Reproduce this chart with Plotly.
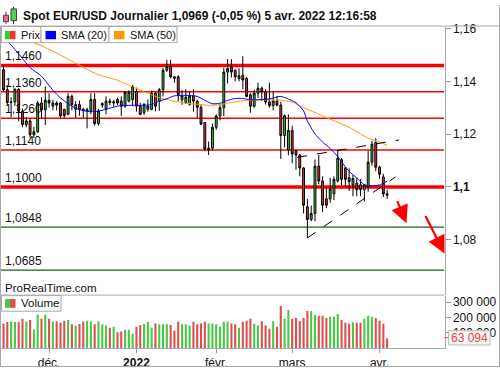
import plotly.graph_objects as go
import pandas as pd

# ---------------- data ----------------
dates = [d.strftime("%Y-%m-%d") for d in pd.bdate_range("2021-11-15", "2022-04-05")]

opens = [1.1444, 1.1368, 1.1320, 1.1322, 1.1370, 1.1287, 1.1236, 1.1250, 1.1198, 1.1209,
         1.1318, 1.1292, 1.1328, 1.1306, 1.1318, 1.1318, 1.1294, 1.1275, 1.1343, 1.1294,
         1.1312, 1.1294, 1.1288, 1.1288, 1.1331, 1.1240, 1.1310, 1.1294, 1.1325, 1.1318,
         1.1331, 1.1325, 1.1306, 1.1325, 1.1331, 1.1362, 1.1306, 1.1282, 1.1294, 1.1294,
         1.1355, 1.1324, 1.1368, 1.1442, 1.1456, 1.1417, 1.1417, 1.1330, 1.1320, 1.1313,
         1.1345, 1.1325, 1.1302, 1.1244, 1.1141, 1.1147, 1.1226, 1.1269, 1.1300, 1.1435,
         1.1454, 1.1441, 1.1410, 1.1423, 1.1411, 1.1349, 1.1306, 1.1355, 1.1374, 1.1360,
         1.1322, 1.1308, 1.1326, 1.1310, 1.1195, 1.1140, 1.1214, 1.1137, 1.1121, 1.1072,
         1.0925, 1.0877, 1.0900, 1.1079, 1.1023, 1.0955, 1.0955, 1.0974, 1.1023, 1.1103,
         1.1072, 1.1035, 1.1008, 1.1014, 1.1008, 1.0990, 1.1001, 1.1094, 1.1168, 1.1075,
         1.1038, 1.0974]
highs = [1.1462, 1.1386, 1.1340, 1.1373, 1.1374, 1.1297, 1.1264, 1.1260, 1.1227, 1.1326,
         1.1340, 1.1380, 1.1355, 1.1330, 1.1325, 1.1322, 1.1296, 1.1355, 1.1350, 1.1325,
         1.1327, 1.1300, 1.1300, 1.1355, 1.1355, 1.1295, 1.1320, 1.1343, 1.1335, 1.1330,
         1.1338, 1.1343, 1.1362, 1.1366, 1.1386, 1.1376, 1.1319, 1.1318, 1.1332, 1.1365,
         1.1360, 1.1375, 1.1450, 1.1481, 1.1481, 1.1420, 1.1423, 1.1366, 1.1370, 1.1363,
         1.1370, 1.1330, 1.1310, 1.1245, 1.1172, 1.1240, 1.1275, 1.1314, 1.1451, 1.1484,
         1.1484, 1.1445, 1.1449, 1.1495, 1.1416, 1.1355, 1.1369, 1.1395, 1.1380, 1.1370,
         1.1395, 1.1360, 1.1345, 1.1323, 1.1274, 1.1275, 1.1232, 1.1140, 1.1125, 1.1075,
         1.0955, 1.0930, 1.1104, 1.1121, 1.1040, 1.0999, 1.1035, 1.1040, 1.1138, 1.1110,
         1.1075, 1.1070, 1.1045, 1.1035, 1.1030, 1.1010, 1.1137, 1.1175, 1.1185, 1.1080,
         1.1050, 1.0990]
lows = [1.1362, 1.1309, 1.1264, 1.1307, 1.1249, 1.1226, 1.1226, 1.1186, 1.1185, 1.1205,
        1.1260, 1.1235, 1.1300, 1.1290, 1.1290, 1.1262, 1.1262, 1.1272, 1.1290, 1.1262,
        1.1270, 1.1262, 1.1222, 1.1275, 1.1232, 1.1232, 1.1300, 1.1275, 1.1310, 1.1305,
        1.1310, 1.1269, 1.1300, 1.1320, 1.1306, 1.1285, 1.1272, 1.1272, 1.1285, 1.1290,
        1.1286, 1.1288, 1.1343, 1.1436, 1.1411, 1.1395, 1.1325, 1.1311, 1.1314, 1.1308,
        1.1285, 1.1262, 1.1234, 1.1135, 1.1121, 1.1138, 1.1217, 1.1252, 1.1268, 1.1392,
        1.1414, 1.1400, 1.1400, 1.1370, 1.1340, 1.1281, 1.1300, 1.1337, 1.1325, 1.1312,
        1.1300, 1.1290, 1.1305, 1.1106, 1.1150, 1.1120, 1.1090, 1.1065, 1.1040, 1.0900,
        1.0807, 1.0870, 1.0870, 1.1010, 1.0905, 1.0920, 1.0940, 1.0950, 1.1017, 1.1005,
        1.1000, 1.0985, 1.0965, 1.0965, 1.0965, 1.0945, 1.0982, 1.1080, 1.1060, 1.1030,
        1.0962, 1.0955]
closes = [1.1368, 1.1320, 1.1322, 1.1370, 1.1287, 1.1236, 1.1250, 1.1198, 1.1209, 1.1318,
          1.1292, 1.1328, 1.1318, 1.1318, 1.1310, 1.1269, 1.1270, 1.1343, 1.1312, 1.1312,
          1.1294, 1.1290, 1.1292, 1.1331, 1.1240, 1.1288, 1.1316, 1.1325, 1.1320, 1.1322,
          1.1318, 1.1306, 1.1358, 1.1358, 1.1380, 1.1306, 1.1275, 1.1312, 1.1306, 1.1355,
          1.1306, 1.1368, 1.1442, 1.1456, 1.1417, 1.1411, 1.1349, 1.1345, 1.1340, 1.1345,
          1.1325, 1.1302, 1.1238, 1.1144, 1.1147, 1.1226, 1.1269, 1.1300, 1.1435, 1.1448,
          1.1435, 1.1417, 1.1421, 1.1405, 1.1343, 1.1306, 1.1355, 1.1374, 1.1360, 1.1322,
          1.1308, 1.1326, 1.1310, 1.1195, 1.1270, 1.1214, 1.1125, 1.1121, 1.1072, 1.0931,
          1.0877, 1.0900, 1.1079, 1.1023, 1.0931, 1.0931, 1.0992, 1.1029, 1.1109, 1.1029,
          1.1029, 1.1020, 1.1032, 1.0990, 1.0990, 1.1008, 1.1094, 1.1162, 1.1075, 1.1048,
          1.0974, 1.0969]
volumes = [160000, 169000, 173000, 169000, 167000, 190000, 173000, 182000, 121000, 216000,
           190000, 216000, 190000, 173000, 173000, 165000, 177000, 182000, 154000, 146000,
           156000, 173000, 177000, 173000, 154000, 173000, 154000, 146000, 132000, 138000,
           102000, 108000, 118000, 118000, 93000, 138000, 149000, 156000, 169000, 132000,
           160000, 154000, 154000, 154000, 149000, 112000, 171000, 154000, 154000, 146000,
           171000, 154000, 160000, 171000, 160000, 160000, 154000, 138000, 171000, 171000,
           160000, 154000, 132000, 171000, 177000, 190000, 158000, 147000, 175000, 147000,
           126000, 175000, 139000, 274000, 190000, 248000, 190000, 196000, 175000, 196000,
           242000, 242000, 215000, 210000, 210000, 196000, 203000, 203000, 222000, 182000,
           164000, 158000, 168000, 164000, 164000, 190000, 210000, 203000, 196000, 177000,
           158000, 63094]

# moving averages (candle index, value)
sma20_idx = [0, 2, 4, 7, 10, 13, 15, 17, 19, 21, 23, 25, 27, 30, 33, 36, 39, 41, 43, 45,
             48, 51, 53, 55, 57, 59, 61, 63, 65, 70, 72, 73, 75, 77, 79, 80, 82, 84, 86,
             88, 89, 91, 93, 95, 97, 99, 101]
sma20_val = [1.1565, 1.1537, 1.1504, 1.1452, 1.1419, 1.1366, 1.1337, 1.1315, 1.1298, 1.1289,
             1.1285, 1.1287, 1.1294, 1.1306, 1.1309, 1.1309, 1.1312, 1.1325, 1.1334, 1.1345,
             1.1347, 1.1343, 1.1328, 1.1315, 1.1317, 1.1328, 1.1335, 1.1335, 1.1330, 1.1333,
             1.1341, 1.1343, 1.1333, 1.1319, 1.1288, 1.1250, 1.1201, 1.1170, 1.1146,
             1.1115, 1.1095, 1.1059, 1.1034, 1.1008, 1.1004, 1.1008, 1.1022]
sma50_idx = [0, 4, 9, 13, 17, 21, 25, 30, 34, 38, 41, 45, 48, 52, 54, 57, 60, 65, 70, 73,
             76, 79, 82, 85, 88, 91, 94, 96, 99, 101]
sma50_val = [1.1591, 1.1567, 1.1541, 1.1514, 1.1484, 1.1453, 1.1425, 1.1404, 1.1379, 1.1355,
             1.1338, 1.1325, 1.1317, 1.1312, 1.1309, 1.1312, 1.1320, 1.1329, 1.1329, 1.1329,
             1.1321, 1.1300, 1.1282, 1.1263, 1.1245, 1.1226, 1.1201, 1.1185, 1.1170, 1.1158]

levels_red = [1.1460, 1.1360, 1.1260, 1.1140, 1.1000]
levels_red_labels = ["1,1460", "1,1360", "1,1260", "1,1140", "1,1000"]
levels_green = [1.0848, 1.0685]
levels_green_labels = ["1,0848", "1,0685"]

price_ticks = [1.08, 1.10, 1.12, 1.14, 1.16]
price_ticktext = ["1,08", "<b>1,1</b>", "1,12", "1,14", "1,16"]
vol_ticks = [100000, 200000, 300000]
vol_ticktext = ["100 000", "200 000", "300 000"]
month_ticks = ["2021-12-01", "2022-01-03", "2022-02-01", "2022-03-01", "2022-04-01"]
month_text = ["déc.", "<b>2022</b>", "févr.", "mars", "avr."]

# drawn objects: (candle index, price)
trend_upper = [(77.3, 1.1112), (104.1, 1.1178)]
trend_lower = [(80.0, 1.0807), (103.2, 1.1038)]
arrows = [((103.5, 1.0952), (106.1, 1.0863)), ((110.9, 1.0896), (116.1, 1.0748))]

title_text = "Spot EUR/USD Journalier 1,0969 (-0,05 %) 5 avr. 2022 12:16:58"
last_volume_text = "63 094"

# ---------------- style ----------------
FONT = "Liberation Sans, Arial, sans-serif"
GREEN = "#33cc33"
RED = "#ee3333"
VGREEN = "#47c847"
VRED = "#dc4f4f"
FRAME = "#aaaaaa"
W, H = 500, 370


def X(px):
    return px / W


def Y(py):
    return 1 - py / H


vol_colors = [VGREEN if c >= o else VRED for o, c in zip(opens, closes)]

fig = go.Figure()
fig.add_trace(go.Candlestick(
    x=dates, open=opens, high=highs, low=lows, close=closes,
    increasing=dict(line=dict(color="#000000", width=1), fillcolor=GREEN),
    decreasing=dict(line=dict(color="#000000", width=1), fillcolor=RED),
    whiskerwidth=0, showlegend=False, hoverinfo="skip", xaxis="x", yaxis="y"))
fig.add_trace(go.Scatter(x=[dates[i] for i in sma50_idx], y=sma50_val, mode="lines",
                         line=dict(color="#ff9900", width=1, shape="spline", smoothing=0.6),
                         hoverinfo="skip", showlegend=False, xaxis="x", yaxis="y"))
fig.add_trace(go.Scatter(x=[dates[i] for i in sma20_idx], y=sma20_val, mode="lines",
                         line=dict(color="#0000ff", width=1, shape="spline", smoothing=0.6),
                         hoverinfo="skip", showlegend=False, xaxis="x", yaxis="y"))
fig.add_trace(go.Bar(x=dates, y=volumes, marker=dict(color=vol_colors, line=dict(width=0)),
                     width=0.55, hoverinfo="skip", showlegend=False, xaxis="x2", yaxis="y2"))

shapes = []
annotations = []

# level lines
for lv, lab in zip(levels_red, levels_red_labels):
    wdt = 3.5 if lab in ("1,1460", "1,1000") else 1.5
    shapes.append(dict(type="line", xref="paper", yref="y", x0=X(1), x1=X(444), y0=lv, y1=lv,
                       line=dict(color="#ff0000", width=wdt), layer="below"))
    annotations.append(dict(xref="paper", yref="y", x=X(3), y=lv, text=lab, showarrow=False,
                            xanchor="left", yanchor="bottom", yshift=0,
                            font=dict(family=FONT, size=12, color="#111111")))
for lv, lab in zip(levels_green, levels_green_labels):
    shapes.append(dict(type="line", xref="paper", yref="y", x0=X(1), x1=X(444), y0=lv, y1=lv,
                       line=dict(color="#1f5f1f", width=1.3), layer="below"))
    annotations.append(dict(xref="paper", yref="y", x=X(3), y=lv, text=lab, showarrow=False,
                            xanchor="left", yanchor="bottom",
                            font=dict(family=FONT, size=12, color="#111111")))

# trend lines
for (xa, ya), (xb, yb) in [trend_upper, trend_lower]:
    shapes.append(dict(type="line", xref="x", yref="y", x0=xa, y0=ya, x1=xb, y1=yb,
                       line=dict(color="#000000", width=1, dash="10px,10px")))

# arrows
for (xa, ya), (xb, yb) in arrows:
    annotations.append(dict(xref="x", yref="y", axref="x", ayref="y", x=xb, y=yb, ax=xa, ay=ya,
                            text="", showarrow=True, arrowhead=2, arrowsize=1.6,
                            arrowwidth=2.2, arrowcolor="#ff0000"))

# frame lines (pixel positions)
def pline(x0, y0, x1, y1, color=FRAME, width=1):
    shapes.append(dict(type="line", xref="paper", yref="paper", x0=X(x0), y0=Y(y0),
                       x1=X(x1), y1=Y(y1), line=dict(color=color, width=width)))

pline(0, 21.5, 500, 21.5)
pline(0.5, 21.5, 0.5, 369.5)
pline(499.5, 0, 499.5, 369.5)
pline(0, 369.5, 500, 369.5)
pline(0, 296.5, 444.5, 296.5)


def prect(x0, y0, x1, y1, fill, line=FRAME, lw=1):
    shapes.append(dict(type="rect", xref="paper", yref="paper", x0=X(x0), y0=Y(y0),
                       x1=X(x1), y1=Y(y1), fillcolor=fill, line=dict(color=line, width=lw)))

# legend boxes
prect(1.5, 22, 41, 38.5, "#ffffff")
prect(41, 22, 109, 38.5, "#ffffff")
prect(109, 22, 177, 38.5, "#ffffff")
prect(5, 26.5, 10, 35, GREEN, line=GREEN, lw=0)
prect(10, 26.5, 15.5, 35, RED, line=RED, lw=0)
prect(45.5, 26.5, 56, 35, "#0000ff", line="#0000ff", lw=0)
prect(114, 26.5, 124.5, 35, "#ff9900", line="#ff9900", lw=0)
prect(1.5, 297, 61, 313, "#ffffff")
prect(5, 300.5, 10, 309.5, VGREEN, line=VGREEN, lw=0)
prect(10, 300.5, 15.5, 309.5, VRED, line=VRED, lw=0)

# title icon
pline(6, 7, 6, 19, color="#333333")
prect(3.5, 10.5, 8.5, 17, "#ee7070", line="#444444")
pline(13.5, 2, 13.5, 19.5, color="#333333")
prect(11, 4, 16.5, 16, "#55d055", line="#444444")

# last volume marker
pline(444.5, 340, 448, 340, color="#e04848", width=1)
prect(448.5, 333, 490, 347.5, "#f6f6f6", line="#bbbbbb")

for txt, px, py, size in [("Prix", 18.5, 30.5, 11), ("SMA (20)", 59, 30.5, 11), ("SMA (50)", 127.5, 30.5, 11),
                          ("Volume", 18.5, 305, 11.5), ("ProRealTime.com", 3, 289.5, 11.5)]:
    annotations.append(dict(xref="paper", yref="paper", x=X(px), y=Y(py), text=txt, showarrow=False,
                            xanchor="left", yanchor="middle",
                            font=dict(family=FONT, size=size, color="#111111")))
annotations.append(dict(xref="paper", yref="paper", x=X(21), y=Y(11), text="<b>" + title_text + "</b>",
                        showarrow=False, xanchor="left", yanchor="middle",
                        font=dict(family=FONT, size=12, color="#111111")))
annotations.append(dict(xref="paper", yref="paper", x=X(469.5), y=Y(340.5), text=last_volume_text,
                        showarrow=False, xanchor="center", yanchor="middle",
                        font=dict(family=FONT, size=12, color="#e04848")))

axis_font = dict(family=FONT, size=12, color="#111111")
fig.update_layout(
    width=W, height=H, margin=dict(l=0, r=0, t=0, b=0),
    paper_bgcolor="#ffffff", plot_bgcolor="#ffffff",
    showlegend=False, hovermode=False,
    xaxis=dict(domain=[X(1), X(444.5)], type="category", range=[-0.66, 116.1],
               showticklabels=False, showgrid=False, zeroline=False, rangeslider=dict(visible=False),
               anchor="y", ticks=""),
    yaxis=dict(domain=[Y(296), Y(22)], range=[1.05926, 1.16074], side="right", anchor="x",
               tickmode="array", tickvals=price_ticks, ticktext=price_ticktext,
               ticks="outside", ticklen=5, tickcolor="#999999", showline=True, linecolor=FRAME,
               showgrid=False, zeroline=False, tickfont=axis_font),
    xaxis2=dict(domain=[X(1), X(444.5)], type="category", matches="x", anchor="y2",
                tickmode="array", tickvals=month_ticks, ticktext=month_text,
                ticks="outside", ticklen=4, tickcolor="#999999", showline=True, linecolor=FRAME,
                showgrid=False, zeroline=False, tickfont=axis_font),
    yaxis2=dict(domain=[Y(350.5), Y(297)], range=[0, 342000], side="right", anchor="x2",
                tickmode="array", tickvals=vol_ticks, ticktext=vol_ticktext,
                ticks="outside", ticklen=5, tickcolor="#999999", showline=True, linecolor=FRAME,
                showgrid=False, zeroline=False, tickfont=axis_font),
    shapes=shapes, annotations=annotations,
)

fig.write_html("out.html", config={"displayModeBar": False})
